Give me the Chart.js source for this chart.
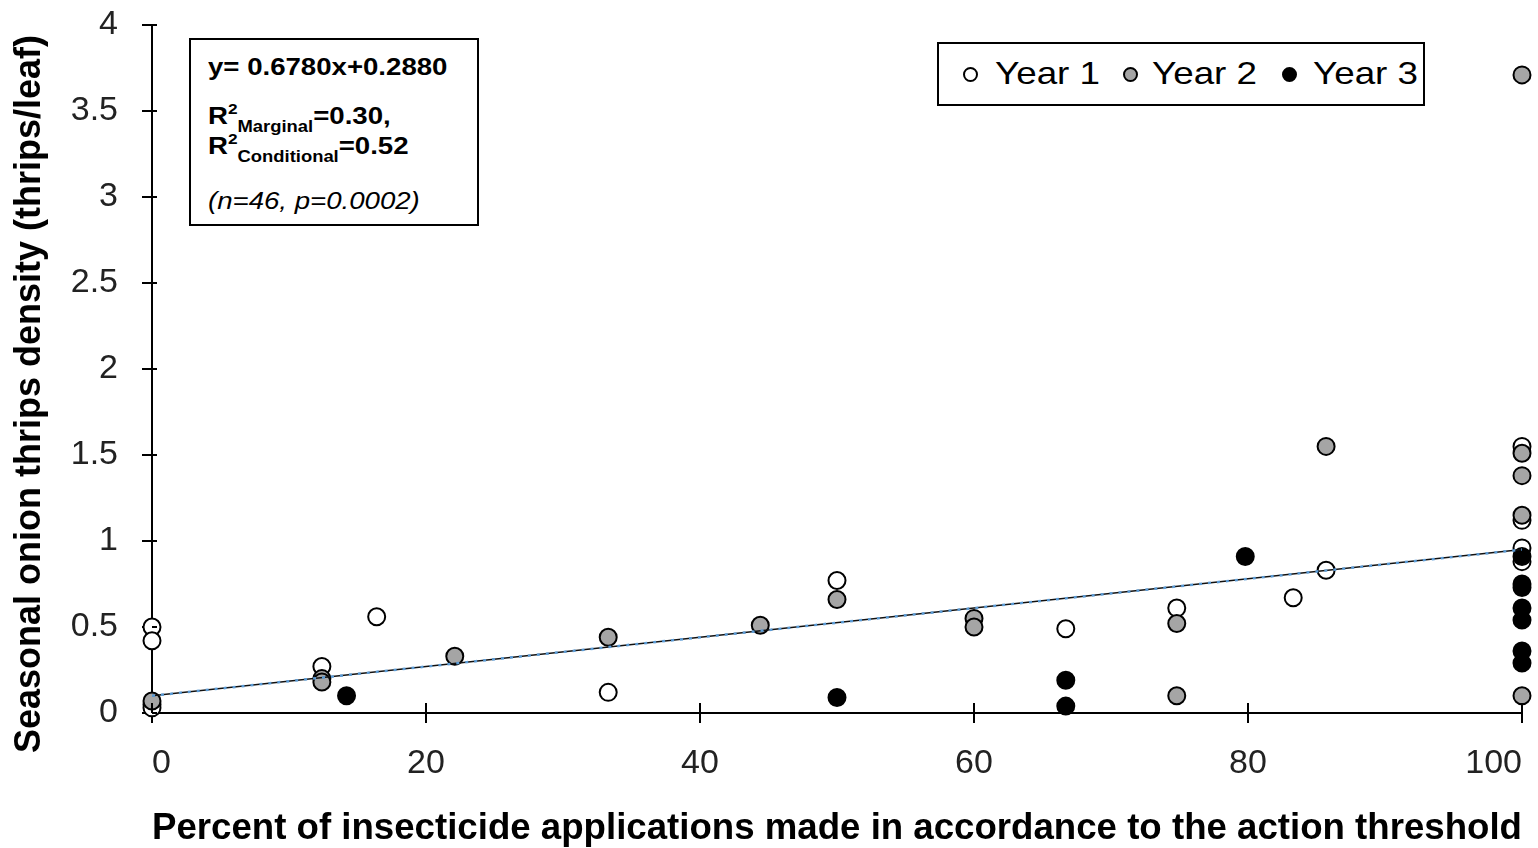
<!DOCTYPE html>
<html>
<head>
<meta charset="utf-8">
<script src="https://cdn.jsdelivr.net/npm/chart.js@4"></script>
<style>
  body { margin: 0; background: #fff; font-family: "Liberation Sans", Arial, sans-serif; }
  #wrap { position: relative; width: 1538px; height: 848px; }
  #stats { position: absolute; left: 189px; top: 38px; width: 286px; height: 184px; border: 2px solid #000; background: #fff; color: #000; }
  #stats div { position: absolute; left: 17px; white-space: nowrap; transform: scaleX(1.15); transform-origin: left center; }
  .b { font-weight: bold; font-size: 24px; }
  .sub { font-size: 16px; position: relative; top: 8px; }
  .sup { font-size: 15px; position: relative; top: -10px; }
  #legend { position: absolute; left: 937px; top: 42px; width: 484px; height: 60px; border: 2px solid #000; background: #fff; }
  .dot { position: absolute; top: 23px; width: 15px; height: 15px; border-radius: 50%; border: 2px solid #000; box-sizing: border-box; }
  .name { position: absolute; top: 11px; font-size: 32px; color: #000; white-space: nowrap; transform: scaleX(1.15); transform-origin: left center; }
</style>
</head>
<body>
<div id="wrap">
  <canvas id="grafico" width="1538" height="848"></canvas>
  <div id="stats">
    <div class="b" style="top:13px">y= 0.6780x+0.2880</div>
    <div class="b" style="top:62px">R<span class="sup">2</span><span class="sub">Marginal</span>=0.30,</div>
    <div class="b" style="top:92px">R<span class="sup">2</span><span class="sub">Conditional</span>=0.52</div>
    <div style="top:147px; font-style:italic; font-size:24px;">(n=46, p=0.0002)</div>
  </div>
  <div id="legend"></div>
</div>
<script>
// Year 1 (open circles)
const year1X = [0, 0, 0, 0, 12.4, 16.4, 33.3, 50, 66.7, 74.8, 83.3, 85.7, 100, 100, 100, 100]
const year1Y = [0.50, 0.42, 0.05, 0.03, 0.27, 0.56, 0.12, 0.77, 0.49, 0.61, 0.67, 0.83, 1.55, 1.12, 0.96, 0.88]

// Year 2 (grey circles)
const year2X = [0, 12.4, 12.4, 22.1, 33.3, 44.4, 50, 60, 60, 74.8, 74.8, 85.7, 100, 100, 100, 100, 100]
const year2Y = [0.07, 0.20, 0.18, 0.33, 0.44, 0.51, 0.66, 0.55, 0.50, 0.52, 0.10, 1.55, 3.71, 1.51, 1.38, 1.15, 0.10]

// Year 3 (black circles)
const year3X = [14.2, 50, 66.7, 66.7, 79.8, 100, 100, 100, 100, 100, 100, 100]
const year3Y = [0.10, 0.09, 0.19, 0.04, 0.91, 0.91, 0.75, 0.73, 0.61, 0.54, 0.36, 0.29]

// fitted line (ends)
const trendX = [0, 100]
const trendY = [0.10, 0.95]

const xTicks = [0, 20, 40, 60, 80, 100]
const yTicks = [0, 0.5, 1, 1.5, 2, 2.5, 3, 3.5, 4]

const seriesNames = ['Year 1', 'Year 2', 'Year 3']
const seriesFill = ['#ffffff', '#a5a5a5', '#000000']

const yTitle = 'Seasonal onion thrips density (thrips/leaf)'

function toPoints(xs, ys) {
    return xs.map((x, i) => ({ x: x, y: ys[i] }))
}

function pointSet(label, xs, ys, fill, order) {
    return {
        type: 'scatter',
        label: label,
        data: toPoints(xs, ys),
        backgroundColor: fill,
        borderColor: '#000',
        borderWidth: 2,
        pointRadius: 8.5,
        pointHoverRadius: 8.5,
        clip: false,
        order: order
    }
}

// ticks crossing into the plot area + the y title (centred on the page, not the plot)
const extras = {
    id: 'extras',
    afterDraw(chart) {
        const ctx = chart.ctx
        const x = chart.scales.x
        const y = chart.scales.y
        ctx.save()
        ctx.strokeStyle = '#000'
        ctx.lineWidth = 2
        ctx.beginPath()
        xTicks.forEach(v => {
            let px = x.getPixelForValue(v)
            ctx.moveTo(px, y.bottom)
            ctx.lineTo(px, y.bottom - 10)
        })
        yTicks.forEach(v => {
            let py = y.getPixelForValue(v)
            ctx.moveTo(x.left, py)
            ctx.lineTo(x.left + 5, py)
        })
        ctx.stroke()

        ctx.translate(30, 394)
        ctx.rotate(-Math.PI / 2)
        ctx.font = 'bold 36px "Liberation Sans", Arial, sans-serif'
        ctx.fillStyle = '#000'
        ctx.textAlign = 'center'
        ctx.textBaseline = 'middle'
        ctx.fillText(yTitle, 0, 0)
        ctx.restore()
    }
}

const tickFont = { family: '"Liberation Sans", Arial, sans-serif', size: 34 }
const titleFont = { family: '"Liberation Sans", Arial, sans-serif', size: 37, weight: 'bold' }

new Chart(document.getElementById('grafico'), {
    data: {
        datasets: [
            {
                type: 'line',
                label: 'fit',
                data: toPoints(trendX, trendY),
                borderColor: '#5b9bd5',
                borderWidth: 2.5,
                borderDash: [3, 6],
                pointRadius: 0,
                fill: false,
                order: 0
            },
            {
                type: 'line',
                label: 'fit-base',
                data: toPoints(trendX, trendY),
                borderColor: '#111',
                borderWidth: 1.5,
                pointRadius: 0,
                fill: false,
                order: 1
            },
            pointSet(seriesNames[2], year3X, year3Y, seriesFill[2], 2),
            pointSet(seriesNames[1], year2X, year2Y, seriesFill[1], 3),
            pointSet(seriesNames[0], year1X, year1Y, seriesFill[0], 4)
        ]
    },
    options: {
        responsive: false,
        animation: false,
        layout: { padding: { top: 25, right: 16, left: 0, bottom: 0 } },
        plugins: {
            legend: { display: false },
            tooltip: { enabled: false }
        },
        scales: {
            x: {
                type: 'linear',
                min: 0,
                max: 100,
                afterBuildTicks: s => { s.ticks = xTicks.map(v => ({ value: v })) },
                afterFit: s => { s.height = 135; s.paddingLeft = 0; s.paddingRight = 0 },
                border: { color: '#000', width: 2 },
                grid: { drawOnChartArea: false, color: '#000', lineWidth: 2, tickLength: 10 },
                ticks: { font: tickFont, color: '#222', padding: 20, align: 'inner', maxRotation: 0 },
                title: { display: true, text: 'Percent of insecticide applications made in accordance to the action threshold', font: titleFont, color: '#000', padding: { top: 0, bottom: -3 } }
            },
            y: {
                min: 0,
                max: 4,
                afterBuildTicks: s => { s.ticks = yTicks.map(v => ({ value: v })) },
                afterFit: s => { s.width = 152; s.paddingTop = 0; s.paddingBottom = 0 },
                border: { color: '#000', width: 2 },
                grid: { drawOnChartArea: false, color: '#000', lineWidth: 2, tickLength: 10 },
                ticks: { font: tickFont, color: '#222', padding: 24, callback: v => String(v) }
            }
        }
    },
    plugins: [extras]
})

// legend built from the series names
const dotLeft = [24, 184, 343]
const nameLeft = [56, 213, 374]
let legend = document.getElementById('legend')
seriesNames.forEach((name, i) => {
    let dot = document.createElement('span')
    dot.className = 'dot'
    dot.style.left = dotLeft[i] + 'px'
    dot.style.background = seriesFill[i]
    legend.appendChild(dot)
    let txt = document.createElement('span')
    txt.className = 'name'
    txt.style.left = nameLeft[i] + 'px'
    txt.textContent = name
    legend.appendChild(txt)
})
</script>
</body>
</html>
